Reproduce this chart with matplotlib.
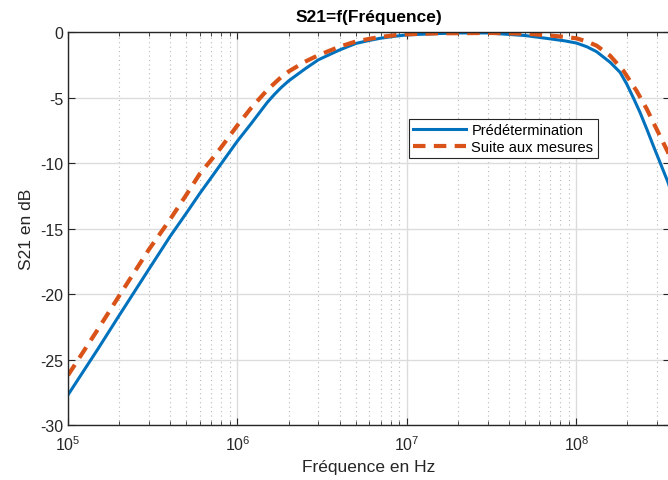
#!/usr/bin/env python3
import math
import matplotlib
matplotlib.use('Agg')
import matplotlib.pyplot as plt
from matplotlib.ticker import FixedLocator, FuncFormatter, LogLocator, NullFormatter

plt.rcParams['font.family'] = ['Liberation Sans', 'DejaVu Sans']
plt.rcParams['mathtext.default'] = 'regular'
plt.rcParams['axes.unicode_minus'] = False

# values (Hz, dB)
freq_pred = [1e5, 1.5e5, 2e5, 3e5, 4e5, 5e5, 6e5, 7e5, 8e5, 1e6, 1.2e6, 1.5e6, 1.65e6,
             1.8e6, 2e6, 2.5e6, 3e6, 4e6, 5e6, 6e6, 7e6, 8.5e6, 1e7, 1.5e7, 2e7, 3e7,
             5e7, 7e7, 8.5e7, 1e8, 1.15e8, 1.315e8, 1.58e8, 1.81e8, 1.98e8, 2.16e8,
             2.37e8, 2.6e8, 2.84e8, 3.11e8, 3.47e8, 3.6e8]
s21_pred = [-27.7, -24.2, -21.65, -18.1, -15.6, -13.8, -12.3, -11.1, -10.05, -8.3, -7.0,
            -5.35, -4.75, -4.25, -3.72, -2.8, -2.1, -1.35, -0.85, -0.62, -0.45, -0.3,
            -0.2, -0.1, -0.05, -0.05, -0.25, -0.5, -0.65, -0.82, -1.1, -1.48, -2.29,
            -3.06, -3.95, -4.97, -6.11, -7.39, -8.66, -9.93, -11.46, -12.1]

freq_mes = [1e5, 1.5e5, 2e5, 3e5, 4e5, 5e5, 6e5, 7e5, 8e5, 1e6, 1.2e6, 1.5e6, 1.8e6,
            2e6, 2.5e6, 3e6, 4e6, 5e6, 6e6, 7e6, 8.5e6, 1e7, 1.5e7, 3e7, 5e7, 7e7,
            8.5e7, 1e8, 1.15e8, 1.315e8, 1.58e8, 1.89e8, 2.26e8, 2.6e8, 2.97e8,
            3.47e8, 3.6e8]
s21_mes = [-26.2, -22.7, -20.15, -16.6, -14.3, -12.4, -10.8, -9.75, -8.8, -7.1, -5.8,
           -4.4, -3.45, -3.0, -2.25, -1.75, -1.1, -0.7, -0.5, -0.35, -0.22, -0.15,
           -0.08, -0.05, -0.1, -0.25, -0.35, -0.46, -0.7, -1.02, -1.79, -2.93, -4.46,
           -5.86, -7.39, -9.17, -9.8]

fig = plt.figure(figsize=(6.68, 4.81), dpi=100)
ax = fig.add_axes([68/668, 55/481, 602/668, 392.7/481])

ax.plot(freq_pred, s21_pred, '-', color='#0072BD', linewidth=2.2, label='Prédétermination')
ax.plot(freq_mes, s21_mes, '--', color='#D95319', linewidth=3, dashes=(3, 2),
        label='Suite aux mesures')

ax.set_xscale('log')
ax.set_xlim(1e5, 10**8.552)
ax.set_ylim(-30, 0)
ax.yaxis.set_major_locator(FixedLocator([-30, -25, -20, -15, -10, -5, 0]))
ax.xaxis.set_major_locator(FixedLocator([1e5, 1e6, 1e7, 1e8]))
ax.xaxis.set_major_formatter(FuncFormatter(lambda v, p: r'$10^{%d}$' % round(math.log10(v))))
ax.xaxis.set_minor_locator(LogLocator(base=10, subs=range(2, 10)))
ax.xaxis.set_minor_formatter(NullFormatter())

ax.grid(True, which='major', color='#dcdcdc', linewidth=1)
ax.grid(True, which='minor', axis='x', color='#b8b8b8', linestyle=(0, (1, 3)), linewidth=0.8)
ax.set_axisbelow(True)

for s in ax.spines.values():
    s.set_color('#262626')
    s.set_linewidth(1)
ax.tick_params(which='both', direction='in', top=True, right=True, colors='#262626',
               labelsize=11.5)
ax.tick_params(which='major', length=5)
ax.tick_params(which='minor', length=3)
ax.tick_params(axis='x', pad=7)

ax.set_xlabel('Fréquence en Hz', fontsize=12.5, color='#262626')
ax.set_ylabel('S21 en dB', fontsize=12.5, color='#262626')
ax.set_title('S21=f(Fréquence)', fontsize=12.5, fontweight='bold', pad=8)

leg = ax.legend(loc='upper left', bbox_to_anchor=(0.566, 0.779), fontsize=10.5,
                fancybox=False, framealpha=1, edgecolor='#262626', handlelength=3.6,
                borderpad=0.3, labelspacing=0.15, handletextpad=0.4, borderaxespad=0)
leg.get_frame().set_linewidth(0.8)

plt.savefig('out.png', dpi=100)
